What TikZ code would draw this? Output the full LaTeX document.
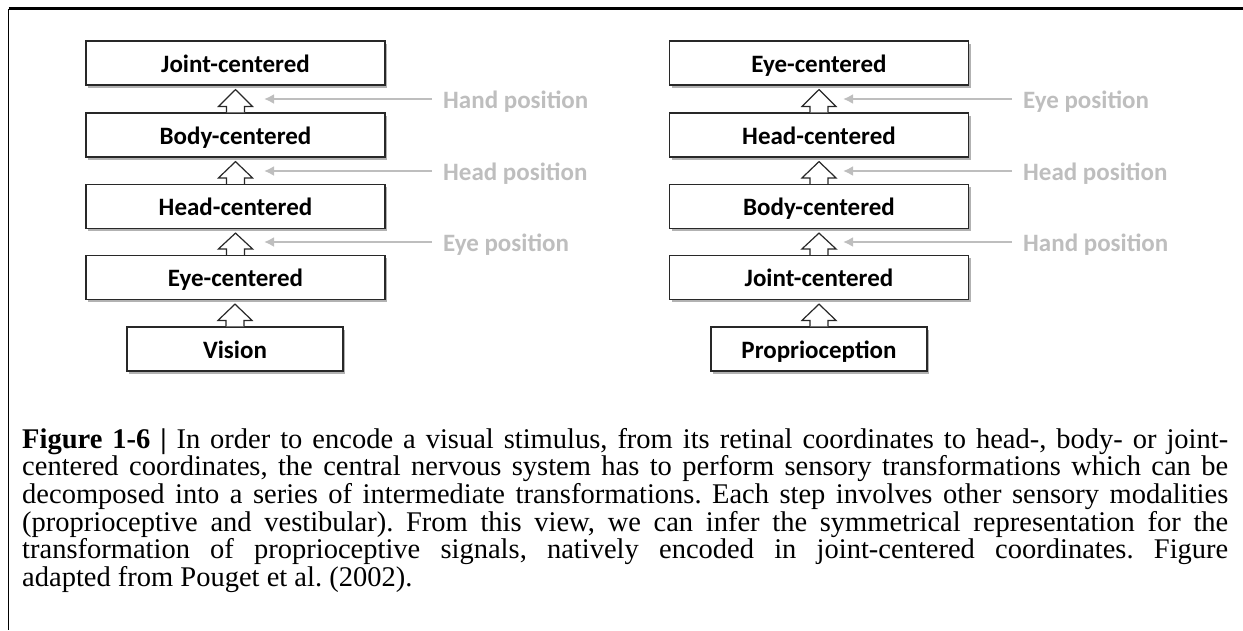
\documentclass[tikz,border=0pt]{standalone}
\usepackage{fontspec}
\setmainfont{Liberation Serif}
\newfontfamily\calib{Carlito}
\usetikzlibrary{shadows,calc,arrows.meta}
\definecolor{lbl}{RGB}{190,190,190}
\definecolor{boxline}{RGB}{40,40,40}
\tikzset{
  level/.style={draw=boxline, line width=1.2pt, fill=white, minimum height=44pt, inner sep=0pt,
    text height=20pt, text depth=2pt,
    font=\calib\bfseries\fontsize{25}{28}\selectfont,
    drop shadow={shadow xshift=2pt,shadow yshift=-2.5pt,opacity=0.3,fill=black}},
  wide/.style={level, minimum width=299pt},
  narrow/.style={level, minimum width=216pt},
  cue/.style={text=lbl, anchor=west, inner sep=0pt, text height=18pt, text depth=0pt,
    font=\calib\bfseries\fontsize{25}{28}\selectfont},
  cuearrow/.style={draw=lbl, line width=2.4pt, -{Latex[length=10pt,width=10pt]}},
  hollow/.style={draw=boxline, line width=1.2pt, fill=white, line join=miter},
}
\newcommand\hollowup[2]{%
  \draw[hollow] let \p1=(#1.north), \p2=(#2.south) in
    (\x1-9pt,\y1) -- (\x1-9pt,\y1+6pt) -- (\x1-17pt,\y1+6pt) -- (\x1,\y2-4pt)
    -- (\x1+17pt,\y1+6pt) -- (\x1+9pt,\y1+6pt) -- (\x1+9pt,\y1);}
\newcommand\jline[1]{\hbox to 1206pt{#1}}
\begin{document}
\begin{tikzpicture}[x=1pt,y=-1pt]
\useasboundingbox (0,0) rectangle (1243,630);
% frame
\draw[line width=2.4pt] (8.5,8.5) -- (1243,8.5);
\draw[line width=1.6pt] (8.5,8.5) -- (8.5,630);
% left column
\node[wide]   (L1) at (235.5,63)  {Joint-centered};
\node[wide]   (L2) at (235.5,135) {Body-centered};
\node[wide]   (L3) at (235.5,206.5) {Head-centered};
\node[wide]   (L4) at (235.5,277.5) {Eye-centered};
\node[narrow] (L5) at (235,349)   {Vision};
% right column
\node[wide]   (R1) at (819,63)  {Eye-centered};
\node[wide]   (R2) at (819,135) {Head-centered};
\node[wide]   (R3) at (819,206.5) {Body-centered};
\node[wide]   (R4) at (819,277.5) {Joint-centered};
\node[narrow] (R5) at (819,349)   {Proprioception};
% hollow arrows
\hollowup{L2}{L1}\hollowup{L3}{L2}\hollowup{L4}{L3}\hollowup{L5}{L4}
\hollowup{R2}{R1}\hollowup{R3}{R2}\hollowup{R4}{R3}\hollowup{R5}{R4}
% cue labels
\node[cue] (la) at (443,99)  {Hand position};
\node[cue] (lb) at (443,171) {Head position};
\node[cue] (lc) at (443,242) {Eye position};
\node[cue] (ra) at (1023,99)  {Eye position};
\node[cue] (rb) at (1023,171) {Head position};
\node[cue] (rc) at (1023,242) {Hand position};
\coordinate (ta) at (264,99);
\coordinate (tb) at (264,171);
\coordinate (tc) at (264,242);
\coordinate (ua) at (843,99);
\coordinate (ub) at (843,171);
\coordinate (uc) at (843,242);
\draw[cuearrow] ($(la.west)+(-11pt,0)$) -- (ta);
\draw[cuearrow] ($(lb.west)+(-11pt,0)$) -- (tb);
\draw[cuearrow] ($(lc.west)+(-11pt,0)$) -- (tc);
\draw[cuearrow] ($(ra.west)+(-11pt,0)$) -- (ua);
\draw[cuearrow] ($(rb.west)+(-11pt,0)$) -- (ub);
\draw[cuearrow] ($(rc.west)+(-11pt,0)$) -- (uc);
% caption
\node[anchor=base west, inner sep=0pt, font=\fontsize{28.5}{27.7}\selectfont] (cap) at (22,448) {\frenchspacing\fontdimen4\font=0.15em\vtop{\baselineskip=27.7pt
\jline{\textbf{Figure 1-6 |} In order to encode a visual stimulus, from its retinal coordinates to head-, body- or joint-}
\jline{centered coordinates, the central nervous system has to perform sensory transformations which can be}
\jline{decomposed into a series of intermediate transformations. Each step involves other sensory modalities}
\jline{(proprioceptive and vestibular). From this view, we can infer the symmetrical representation for the}
\jline{transformation of proprioceptive signals, natively encoded in joint-centered coordinates. Figure}
\hbox{adapted from Pouget et al. (2002).}}};
\end{tikzpicture}
\end{document}
